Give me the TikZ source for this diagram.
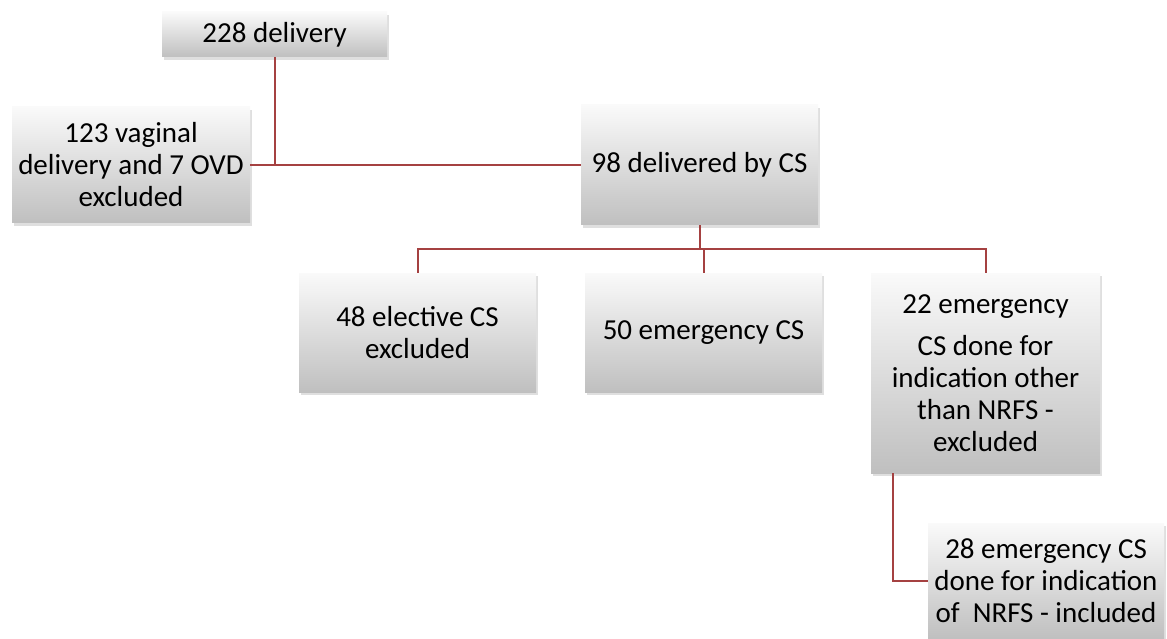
\documentclass[tikz,border=0pt]{standalone}
\usepackage{fontspec}
\setmainfont{Carlito}
\usetikzlibrary{positioning,shadows}

\definecolor{linkred}{RGB}{165,65,65}

\tikzset{
    flowbox/.style={rectangle, inner sep=0pt, align=center,
        top color=gray!4, bottom color=gray!50,
        drop shadow={shadow xshift=2pt, shadow yshift=-3pt, opacity=0.25},
        font=\fontsize{29}{32}\selectfont},
    link/.style={draw=linkred, line width=2pt}
}

\begin{document}
\begin{tikzpicture}[x=1pt, y=-1pt]
    \useasboundingbox (0,0) rectangle (1167,639);

    % Define nodes
    \node[flowbox, minimum width=225pt, minimum height=45pt]  (del)  at (274.5,34.5) {228 delivery};
    \node[flowbox, minimum width=238pt, minimum height=116pt] (vag)  at (131,165)    {123 vaginal\\delivery and 7 OVD\\excluded};
    \node[flowbox, minimum width=237pt, minimum height=120pt] (cs)   at (699.5,165)  {98 delivered by CS};
    \node[flowbox, minimum width=237pt, minimum height=119pt] (elec) at (417.5,332.5) {48 elective CS\\excluded};
    \node[flowbox, minimum width=237pt, minimum height=119pt] (emr)  at (703.5,332.5) {50 emergency CS};
    \node[flowbox, minimum width=229pt, minimum height=200pt] (oth)  at (985.5,373)  {22 emergency\\[10pt]CS done for\\indication other\\than NRFS -\\excluded};
    \node[flowbox, minimum width=236pt, minimum height=116pt] (inc)  at (1046,581)   {28 emergency CS\\done for indication\\of~ NRFS - included};
    \coordinate (split) at (699.5,249);

    % Connect nodes
    \draw[link] (del.south) -- (del.south |- cs.west);
    \draw[link] (vag.east) -- (cs.west);
    \draw[link] (cs.south) -- (split);
    \draw[link] (elec.north) |- (split) -| (oth.north);
    \draw[link] (emr.north) -- (emr.north |- split);
    \draw[link] ([xshift=22pt]oth.south west) |- (inc.west);
\end{tikzpicture}
\end{document}
